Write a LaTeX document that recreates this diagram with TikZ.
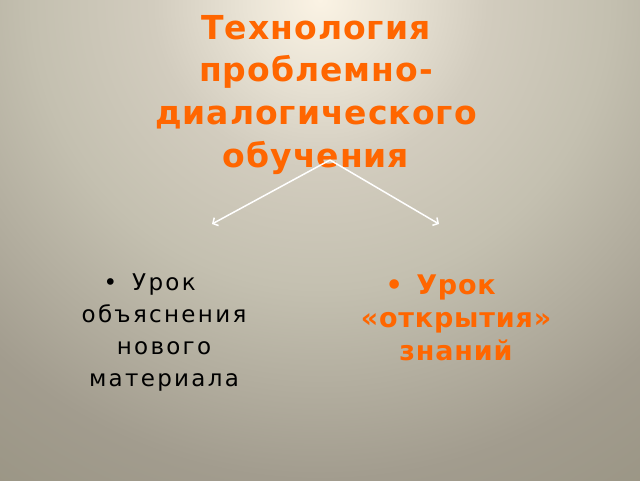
\documentclass[tikz,border=0pt]{standalone}
\usepackage{fontspec}
\setmainfont{DejaVu Sans}[LetterSpace=3]
\newfontfamily\widefont{DejaVu Sans}[LetterSpace=10]
\usepackage{tikz}
\usetikzlibrary{arrows.meta,positioning}
\definecolor{slideorange}{RGB}{255,102,0}
\definecolor{bgA}{RGB}{251,243,228}
\definecolor{bgB}{RGB}{234,228,214}
\definecolor{bgC}{RGB}{210,204,190}
\definecolor{bgD}{RGB}{196,192,176}
\definecolor{bgE}{RGB}{162,156,142}
\definecolor{bgF}{RGB}{154,149,132}
\pgfdeclareradialshading{slidebg}{\pgfpoint{0bp}{0bp}}{%
	color(0bp)=(bgA); color(3bp)=(bgB); color(7bp)=(bgC);
	color(12bp)=(bgD); color(20bp)=(bgE); color(25bp)=(bgF); color(50bp)=(bgF)}
\tikzset{%
	titletext/.style  = {align=center, inner sep=0pt, text=slideorange, font=\fontsize{33}{42.7}\selectfont\bfseries},
	plaintext/.style  = {align=center, inner sep=0pt, text=black, font=\widefont\fontsize{23}{31.7}\selectfont},
	accenttext/.style = {align=center, inner sep=0pt, text=slideorange, font=\fontsize{27}{33}\selectfont\bfseries},
	arrow/.style      = {line width=1.5pt, white, -{Straight Barb[length=4pt,width=9pt]}},
}
\begin{document}
\begin{tikzpicture}[x=1pt,y=1pt]
	\useasboundingbox (0,0) rectangle (640,480);
	\begin{scope}
		\clip (0,0) rectangle (640,480);
		\shade[shading=slidebg] (320,480) circle (600pt);
	\end{scope}
	\node[titletext, anchor=north] (title) at (316,465) {Технология\\проблемно-\\диалогического\\обучения};
	\coordinate (apex) at (330,320);
	\coordinate (lefttip) at (212,256);
	\coordinate (righttip) at (439,256);
	\draw[arrow] (apex) -- (lefttip);
	\draw[arrow] (apex) -- (righttip);
	\node[plaintext, anchor=north] (explain) at (164,206) {\llap{•\hspace{0.65em}}Урок\\объяснения\\нового\\материала};
	\node[accenttext, anchor=north] (discover) at (456,205) {\llap{•\hspace{0.5em}}Урок\\«открытия»\\знаний};
\end{tikzpicture}
\end{document}
